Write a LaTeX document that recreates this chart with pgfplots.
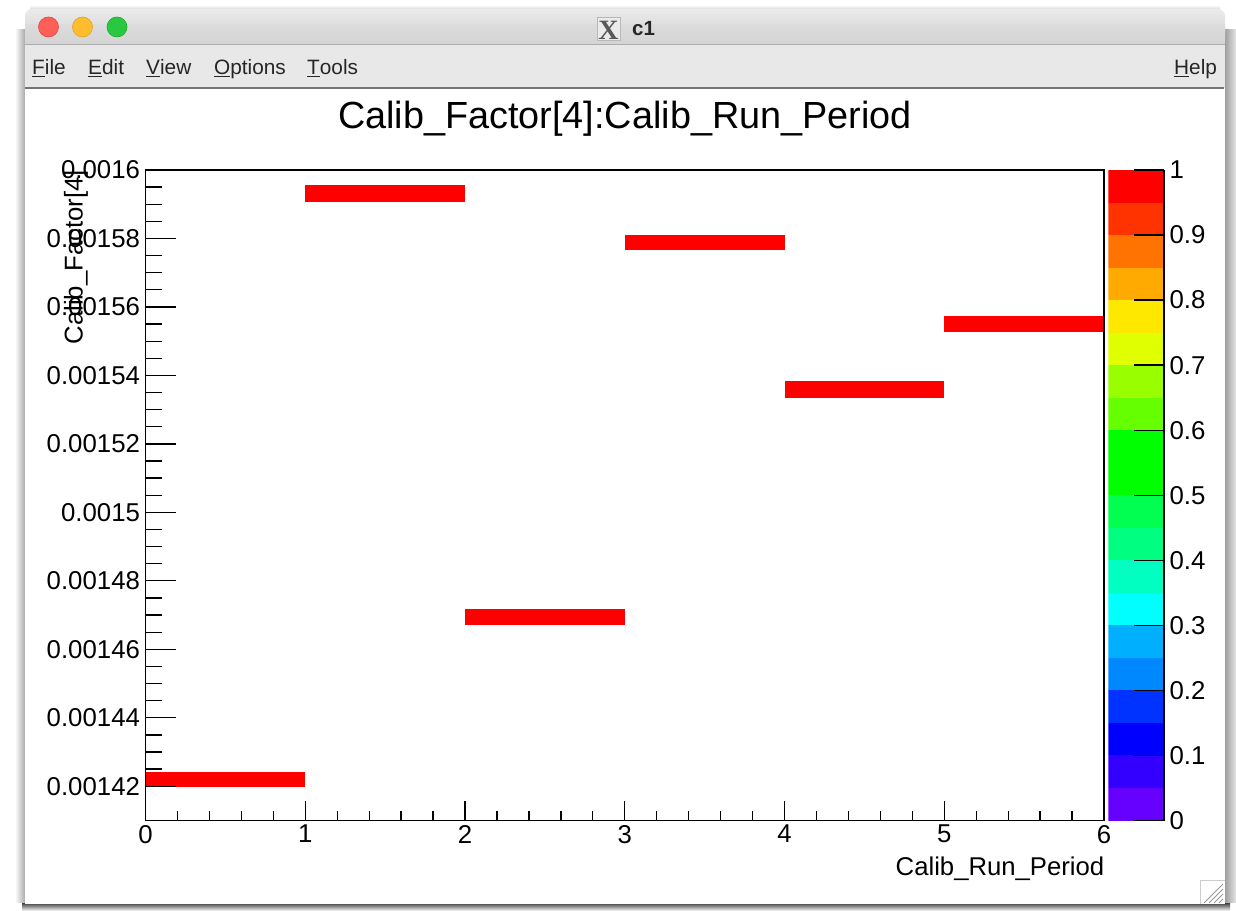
\documentclass[border=0pt]{standalone}
\usepackage{pgfplots}
\pgfplotsset{compat=1.18}
\usepackage{fontspec}
\setmainfont{Liberation Sans}
\newfontfamily\serifx{Liberation Serif}
\definecolor{p01}{HTML}{6600FF}\definecolor{p02}{HTML}{3300FF}\definecolor{p03}{HTML}{0000FF}\definecolor{p04}{HTML}{0033FF}
\definecolor{p05}{HTML}{0088FF}\definecolor{p06}{HTML}{00B0FF}\definecolor{p07}{HTML}{00FFFF}\definecolor{p08}{HTML}{00FFC0}
\definecolor{p09}{HTML}{00FF80}\definecolor{p10}{HTML}{00FF50}\definecolor{p11}{HTML}{00FF00}\definecolor{p12}{HTML}{00FF00}
\definecolor{p13}{HTML}{66FF00}\definecolor{p14}{HTML}{99FF00}\definecolor{p15}{HTML}{E0FF00}\definecolor{p16}{HTML}{FFE800}
\definecolor{p17}{HTML}{FFAA00}\definecolor{p18}{HTML}{FF7300}\definecolor{p19}{HTML}{FF3300}\definecolor{p20}{HTML}{FF0000}
\definecolor{tlr}{HTML}{FF5F57}\definecolor{tlre}{HTML}{E0443E}
\definecolor{tly}{HTML}{FFBD2E}\definecolor{tlye}{HTML}{DEA123}
\definecolor{tlg}{HTML}{28C940}\definecolor{tlge}{HTML}{1AAB29}
\newcommand{\tk}{\fontsize{25.8}{25.8}\selectfont}
\newcommand{\lb}{\fontsize{25.7}{25.7}\selectfont}
\newcommand{\mn}{\fontsize{20.8}{20.8}\selectfont}
\begin{document}
\begin{tikzpicture}
\useasboundingbox (0,0) rectangle (1236pt,910pt);
\begin{scope}[shift={(0,910pt)},x=1pt,y=-1pt]
\fill[white] (0,0) rectangle (1236,910);
% shadows
\shade[left color=white,right color=black!50] (15,30) rectangle (30,902);
\shade[left color=black!50,right color=white] (1220,30) rectangle (1240,902);
\shade[top color=black!75,bottom color=white] (22,903) rectangle (1230,911);
\shade[top color=white,bottom color=black!18] (30,5) rectangle (1220,10);
% window
\fill[white] (25,88) rectangle (1225,904);
\shade[top color=black!8,bottom color=black!17,rounded corners=7pt] (25,9) rectangle (1225,40);
\shade[top color=black!14,bottom color=black!17] (25,25) rectangle (1225,45);
\fill[black!9] (25,45) rectangle (1225,88);
\draw[black!32,line width=1pt] (25,45) -- (1225,45);
\draw[black!55,line width=1.5pt] (25,88) -- (1224,88);
% traffic lights
\fill[tlr,draw=tlre,line width=.6pt] (48.5,27) circle (10);
\fill[tly,draw=tlye,line width=.6pt] (82.5,27) circle (10);
\fill[tlg,draw=tlge,line width=.6pt] (117,27) circle (10);
% title bar icon + name
\fill[black!8,draw=black!28,line width=1pt] (597,18) rectangle (620,41);
\node[font=\fontsize{28}{28}\selectfont\serifx\bfseries,text=black!65,inner sep=0] at (608.5,30) {X};
\node[font=\fontsize{20.5}{20.5}\selectfont\bfseries,text=black!85,anchor=west,inner sep=0] at (632,29) {c1};
% menu
\foreach \x/\l/\r in {32/F/ile,88/E/dit,146/V/iew,214/O/ptions,307/T/ools,1174/H/elp}
  \node[font=\mn,text=black!85,anchor=base west,inner sep=0] at (\x,75) {\underline{\l}\r};
% title
\node[font=\fontsize{37.8}{37.8}\selectfont,anchor=base,inner sep=0] at (625,129) {Calib\_Factor[4]:Calib\_Run\_Period};
% x label
\node[font=\lb,anchor=base east,inner sep=0] at (1104.5,875) {Calib\_Run\_Period};
% resize grip
\draw[black!20,line width=.8pt] (1200,904) -- (1200,880) -- (1225,880);
\foreach \d in {4,9,14,19}
  \draw[black!40,line width=.8pt] (1223-\d,903) -- (1223,903-\d);
\end{scope}

\begin{axis}[
  at={(145.5pt,89.5pt)},anchor=south west,
  scale only axis,width=958.5pt,height=650.5pt,
  xmin=0,xmax=6,ymin=0.00141,ymax=0.0016,
  axis on top,
  axis line style={line width=1.6pt,black},
  clip=false,
  tick align=inside,
  xtick pos=bottom,ytick pos=left,
  xtick={0,1,2,3,4,5,6},xticklabels={0,1,2,3,4,5,6},
  minor x tick num=4,
  ytick={0.00142,0.00144,0.00146,0.00148,0.0015,0.00152,0.00154,0.00156,0.00158,0.0016},
  yticklabels={0.00142,0.00144,0.00146,0.00148,0.0015,0.00152,0.00154,0.00156,0.00158,0.0016},
  minor y tick num=3,
  scaled y ticks=false,
  y tick style={black,line width=1.3pt,/pgfplots/major tick length=30pt,/pgfplots/minor tick length=16pt},
  x tick style={black,line width=1.3pt,/pgfplots/major tick length=20pt,/pgfplots/minor tick length=10pt},
  tick label style={font=\tk},
  yticklabel style={xshift=-2pt},
  xticklabel style={yshift=-1pt},
  ylabel={Calib\_Factor[4]},
  ylabel style={font=\lb,at={(axis description cs:-0.0725,1)},anchor=east,inner sep=0pt},
]
\addplot[fill=red,draw=none] coordinates {(0,0.0014197) (1,0.0014197) (1,0.0014241) (0,0.0014241)} -- cycle;
\addplot[fill=red,draw=none] coordinates {(1,0.0015907) (2,0.0015907) (2,0.0015957) (1,0.0015957)} -- cycle;
\addplot[fill=red,draw=none] coordinates {(2,0.0014671) (3,0.0014671) (3,0.0014718) (2,0.0014718)} -- cycle;
\addplot[fill=red,draw=none] coordinates {(3,0.0015767) (4,0.0015767) (4,0.0015811) (3,0.0015811)} -- cycle;
\addplot[fill=red,draw=none] coordinates {(4,0.0015334) (5,0.0015334) (5,0.0015384) (4,0.0015384)} -- cycle;
\addplot[fill=red,draw=none] coordinates {(5,0.0015527) (6,0.0015527) (6,0.0015574) (5,0.0015574)} -- cycle;
\end{axis}

\begin{axis}[
  at={(1108.3pt,89.5pt)},anchor=south west,
  scale only axis,width=55.7pt,height=650.5pt,
  xmin=0,xmax=1,ymin=0,ymax=1,
  axis on top,
  axis x line=none,
  axis y line*=right,
  axis line style={line width=1.4pt,black,-},
  tick align=inside,
  ytick={0,0.1,0.2,0.3,0.4,0.5,0.6,0.7,0.8,0.9,1},
  yticklabels={0,0.1,0.2,0.3,0.4,0.5,0.6,0.7,0.8,0.9,1},
  major tick length=30pt,
  y tick style={black,line width=1.3pt},
  tick label style={font=\tk},
  yticklabel style={anchor=west,xshift=2pt},
]
\addplot[fill=p01,draw=none] coordinates {(0,0) (1,0) (1,0.05) (0,0.05)} -- cycle;
\addplot[fill=p02,draw=none] coordinates {(0,0.05) (1,0.05) (1,0.1) (0,0.1)} -- cycle;
\addplot[fill=p03,draw=none] coordinates {(0,0.1) (1,0.1) (1,0.15) (0,0.15)} -- cycle;
\addplot[fill=p04,draw=none] coordinates {(0,0.15) (1,0.15) (1,0.2) (0,0.2)} -- cycle;
\addplot[fill=p05,draw=none] coordinates {(0,0.2) (1,0.2) (1,0.25) (0,0.25)} -- cycle;
\addplot[fill=p06,draw=none] coordinates {(0,0.25) (1,0.25) (1,0.3) (0,0.3)} -- cycle;
\addplot[fill=p07,draw=none] coordinates {(0,0.3) (1,0.3) (1,0.35) (0,0.35)} -- cycle;
\addplot[fill=p08,draw=none] coordinates {(0,0.35) (1,0.35) (1,0.4) (0,0.4)} -- cycle;
\addplot[fill=p09,draw=none] coordinates {(0,0.4) (1,0.4) (1,0.45) (0,0.45)} -- cycle;
\addplot[fill=p10,draw=none] coordinates {(0,0.45) (1,0.45) (1,0.5) (0,0.5)} -- cycle;
\addplot[fill=p11,draw=none] coordinates {(0,0.5) (1,0.5) (1,0.55) (0,0.55)} -- cycle;
\addplot[fill=p12,draw=none] coordinates {(0,0.55) (1,0.55) (1,0.6) (0,0.6)} -- cycle;
\addplot[fill=p13,draw=none] coordinates {(0,0.6) (1,0.6) (1,0.65) (0,0.65)} -- cycle;
\addplot[fill=p14,draw=none] coordinates {(0,0.65) (1,0.65) (1,0.7) (0,0.7)} -- cycle;
\addplot[fill=p15,draw=none] coordinates {(0,0.7) (1,0.7) (1,0.75) (0,0.75)} -- cycle;
\addplot[fill=p16,draw=none] coordinates {(0,0.75) (1,0.75) (1,0.8) (0,0.8)} -- cycle;
\addplot[fill=p17,draw=none] coordinates {(0,0.8) (1,0.8) (1,0.85) (0,0.85)} -- cycle;
\addplot[fill=p18,draw=none] coordinates {(0,0.85) (1,0.85) (1,0.9) (0,0.9)} -- cycle;
\addplot[fill=p19,draw=none] coordinates {(0,0.9) (1,0.9) (1,0.95) (0,0.95)} -- cycle;
\addplot[fill=p20,draw=none] coordinates {(0,0.95) (1,0.95) (1,1) (0,1)} -- cycle;
\end{axis}
\end{tikzpicture}
\end{document}
